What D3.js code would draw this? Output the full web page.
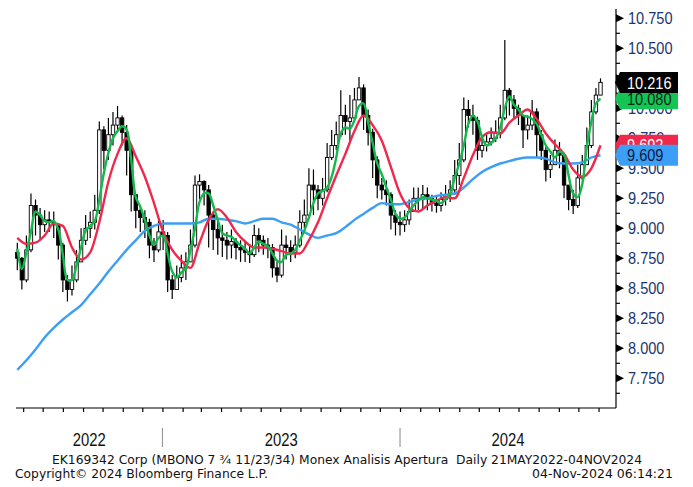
<html>
<head>
<title>MBONO 7.75 11/23/34 daily candles</title>
<style>
  body { margin: 0; background: #fff; }
  svg { display: block; }
</style>
</head>
<body>
<svg></svg>
<script src="https://d3js.org/d3.v7.min.js"></script>
<script>
// weekly candles, 23 May 2022 .. 04 Nov 2024 (one per week)
const candleStart = "2022-05-23";
const opens = [
  8.80,8.75,8.57,8.82,9.19,9.11,9.03,9.07,9.05,9.03,
  8.86,8.57,8.49,8.57,8.72,8.90,9.00,9.05,9.15,9.82,
  9.65,9.78,9.86,9.92,9.80,9.65,9.28,9.15,9.09,9.05,
  8.86,8.82,8.97,8.94,8.57,8.49,8.59,8.67,8.72,8.86,
  9.36,9.39,9.32,9.11,8.99,8.92,8.90,8.86,8.89,8.84,
  8.82,8.80,8.78,8.94,8.90,8.86,8.84,8.67,8.61,8.86,
  8.84,8.80,8.86,9.05,9.11,9.36,9.32,9.25,9.32,9.59,
  9.69,9.78,9.94,9.89,9.92,10.07,10.17,9.94,9.80,9.57,
  9.36,9.32,9.28,9.11,9.05,9.03,9.07,9.14,9.25,9.24,
  9.28,9.25,9.21,9.19,9.24,9.28,9.32,9.44,9.57,9.99,
  9.94,9.90,9.65,9.69,9.72,9.75,9.80,9.92,10.15,10.07,
  10.00,9.94,9.82,9.86,9.97,9.78,9.65,9.49,9.53,9.65,
  9.61,9.36,9.24,9.19,9.42,9.53,9.69,9.97,10.11
];
const highs = [
  8.88,8.76,8.94,9.29,9.24,9.17,9.15,9.14,9.14,9.03,
  8.88,8.61,8.69,8.82,9.00,9.11,9.14,9.28,9.89,9.85,
  9.92,9.97,10.02,9.94,9.86,9.68,9.28,9.19,9.15,9.08,
  8.92,9.07,9.07,8.97,8.61,8.69,8.78,8.80,8.99,9.44,
  9.45,9.40,9.36,9.14,9.07,9.03,8.97,8.99,8.92,8.90,
  8.89,8.87,9.03,9.00,8.94,8.92,8.87,8.72,8.99,8.94,
  8.90,8.94,9.15,9.24,9.50,9.49,9.36,9.42,9.71,9.82,
  9.89,10.15,10.03,10.11,10.17,10.26,10.20,9.99,9.83,9.60,
  9.42,9.40,9.30,9.15,9.14,9.15,9.24,9.34,9.34,9.36,
  9.34,9.28,9.27,9.30,9.36,9.40,9.57,9.71,10.09,10.07,
  10.03,9.93,9.78,9.79,9.84,9.90,10.03,10.57,10.17,10.11,
  10.03,9.94,9.94,10.07,10.00,9.82,9.68,9.61,9.74,9.72,
  9.63,9.36,9.32,9.53,9.61,9.84,10.07,10.17,10.25
];
const lows = [
  8.65,8.49,8.55,8.80,8.94,8.90,8.97,8.97,8.92,8.74,
  8.47,8.39,8.44,8.55,8.72,8.86,8.92,8.99,9.12,9.49,
  9.57,9.69,9.80,9.69,9.44,9.14,9.00,8.97,8.92,8.75,
  8.72,8.80,8.82,8.47,8.41,8.49,8.55,8.57,8.72,8.84,
  9.24,9.19,8.84,8.82,8.78,8.76,8.74,8.75,8.74,8.72,
  8.72,8.71,8.76,8.80,8.78,8.75,8.59,8.55,8.59,8.74,
  8.72,8.75,8.84,9.00,9.08,9.11,9.15,9.19,9.30,9.57,
  9.65,9.76,9.78,9.71,9.90,10.07,9.82,9.69,9.42,9.25,
  9.24,9.19,8.99,8.94,8.94,8.97,9.03,9.14,9.15,9.17,
  9.15,9.14,9.13,9.14,9.19,9.22,9.28,9.36,9.55,9.84,
  9.78,9.57,9.59,9.64,9.69,9.72,9.75,9.90,9.94,9.92,
  9.86,9.67,9.74,9.82,9.59,9.57,9.39,9.42,9.53,9.50,
  9.25,9.15,9.12,9.17,9.40,9.53,9.67,9.95,10.11
];
const closes = [
  8.75,8.57,8.82,9.19,9.11,9.03,9.07,9.05,9.03,8.86,
  8.57,8.49,8.57,8.72,8.90,9.00,9.05,9.15,9.82,9.65,
  9.78,9.86,9.92,9.80,9.65,9.28,9.15,9.09,9.05,8.86,
  8.82,8.97,8.94,8.57,8.49,8.59,8.67,8.72,8.86,9.36,
  9.39,9.32,9.11,8.99,8.92,8.90,8.86,8.89,8.84,8.82,
  8.80,8.78,8.94,8.90,8.86,8.84,8.67,8.61,8.86,8.84,
  8.80,8.86,9.05,9.11,9.36,9.32,9.25,9.32,9.59,9.69,
  9.78,9.94,9.89,9.92,10.07,10.17,9.94,9.80,9.57,9.36,
  9.32,9.28,9.11,9.05,9.03,9.07,9.14,9.25,9.24,9.28,
  9.25,9.21,9.19,9.24,9.28,9.32,9.44,9.57,9.99,9.94,
  9.90,9.65,9.69,9.72,9.75,9.80,9.92,10.15,10.07,10.00,
  9.94,9.82,9.86,9.97,9.78,9.65,9.49,9.53,9.65,9.61,
  9.36,9.24,9.19,9.42,9.53,9.69,9.97,10.11,10.216
];

// short moving average (green), weekly, same dates as candles
const maShort = [
  8.83,8.66,8.80,8.97,9.14,9.11,9.06,9.05,9.06,8.99,
  8.78,8.57,8.57,8.69,8.84,8.98,9.02,9.06,9.24,9.46,
  9.63,9.75,9.81,9.85,9.82,9.57,9.26,9.18,9.07,8.94,
  8.86,8.92,8.94,8.79,8.64,8.59,8.63,8.67,8.82,9.00,
  9.22,9.29,9.29,9.19,9.07,8.96,8.94,8.93,8.89,8.86,
  8.83,8.79,8.84,8.89,8.87,8.85,8.79,8.73,8.72,8.78,
  8.79,8.82,8.90,8.98,9.09,9.21,9.29,9.31,9.34,9.43,
  9.59,9.79,9.84,9.83,9.90,10.02,10.04,9.88,9.71,9.54,
  9.45,9.34,9.24,9.12,9.08,9.09,9.14,9.19,9.23,9.26,
  9.25,9.24,9.23,9.21,9.24,9.29,9.42,9.54,9.69,9.87,
  9.94,9.89,9.76,9.69,9.71,9.75,9.84,10.00,10.10,10.03,
  9.99,9.94,9.93,9.91,9.87,9.78,9.69,9.64,9.59,9.64,
  9.61,9.44,9.29,9.26,9.37,9.68,9.89,10.04,10.08
];
// medium (red) and long (blue) moving averages, every two weeks from candleStart
const maMid = [
  8.92,8.87,8.88,8.94,9.04,9.02,8.84,8.74,8.80,9.05,
  9.39,9.62,9.75,9.60,9.43,9.21,8.97,8.82,8.73,8.67,
  8.88,9.07,9.16,9.09,8.97,8.89,8.84,8.84,8.83,8.81,
  8.79,8.79,8.90,9.05,9.25,9.44,9.62,9.81,9.94,9.86,
  9.73,9.51,9.29,9.17,9.14,9.19,9.23,9.26,9.25,9.42,
  9.61,9.76,9.80,9.79,9.88,9.94,9.99,9.91,9.79,9.70,
  9.62,9.49,9.43,9.50,9.692
];
const maLong = [
  7.82,7.90,7.99,8.09,8.17,8.24,8.30,8.36,8.45,8.54,
  8.64,8.73,8.82,8.90,8.98,9.02,9.04,9.04,9.04,9.04,
  9.05,9.08,9.08,9.07,9.06,9.04,9.06,9.08,9.08,9.05,
  9.03,8.99,8.95,8.92,8.94,8.96,9.01,9.07,9.12,9.17,
  9.21,9.20,9.20,9.22,9.24,9.25,9.27,9.28,9.29,9.34,
  9.41,9.47,9.51,9.54,9.56,9.58,9.59,9.59,9.58,9.55,
  9.54,9.54,9.55,9.59,9.609
];

const yTicks = [7.75, 8.0, 8.25, 8.5, 8.75, 9.0, 9.25, 9.5, 9.75, 10.0, 10.25, 10.5, 10.75];
const yMinor = [7.625, 7.875, 8.125, 8.375, 8.625, 8.875, 9.125, 9.375, 9.625, 9.875, 10.125, 10.375, 10.625];
const years = ["2022", "2023", "2024"];
const footerTitle = "EK169342 Corp (MBONO 7 \u00BE 11/23/34) Monex Analisis Apertura  Daily 21MAY2022-04NOV2024";
const footerCopy = "Copyright\u00A9 2024 Bloomberg Finance L.P.";
const footerStamp = "04-Nov-2024 06:14:21";

window.onload = function() {
  const width = 693, height = 487;
  const axisX = 616, axisY = 408;
  const labelFont = "'Liberation Sans', Arial, sans-serif";
  const fmt = d3.format(".3f");
  // tahoma-like narrow numbers: squeeze each label to its width in the reference
  const numWidth = s => s.replace(/[^0-9]/g, "").length * 8.1 + 4;

  const svg = d3.select("svg").attr("width", width).attr("height", height);

  const parse = d3.utcParse("%Y-%m-%d");
  const t0 = parse(candleStart);
  const weekDates = closes.map((d, i) => d3.utcDay.offset(t0, 7 * i));
  const biDates = maMid.map((d, i) => d3.utcDay.offset(t0, 14 * i));

  const x = d3.scaleUtc()
    .domain([parse("2022-05-21"), parse("2024-11-04")])
    .range([16, 600.5]);
  const y = d3.scaleLinear()
    .domain([7.75, 10.75])
    .range([378.3, 18.3]);

  // candles
  const candles = weekDates.map((d, i) => ({date: d, o: opens[i], h: highs[i], l: lows[i], c: closes[i]}));
  const cg = svg.append("g");
  cg.selectAll("line")
    .data(candles)
    .join("line")
    .attr("x1", d => x(d.date)).attr("x2", d => x(d.date))
    .attr("y1", d => y(d.h)).attr("y2", d => y(d.l))
    .attr("stroke", "#000").attr("stroke-width", 1.2);
  cg.selectAll("rect")
    .data(candles)
    .join("rect")
    .attr("x", d => x(d.date) - 1.7)
    .attr("width", 3.4)
    .attr("y", d => y(Math.max(d.o, d.c)))
    .attr("height", d => Math.max(1, Math.abs(y(d.o) - y(d.c))))
    .attr("fill", d => d.c > d.o ? "#fff" : "#000")
    .attr("stroke", "#000").attr("stroke-width", 0.9);

  // moving averages
  const lineLong = d3.line().x((d, i) => x(biDates[i])).y(d => y(d)).curve(d3.curveMonotoneX);
  const lineMid = d3.line().x((d, i) => x(biDates[i])).y(d => y(d)).curve(d3.curveMonotoneX);
  const lineShort = d3.line().x((d, i) => x(weekDates[i])).y(d => y(d)).curve(d3.curveCatmullRom);

  svg.append("path").datum(maLong).attr("d", lineLong)
    .attr("fill", "none").attr("stroke", "#3d9ef6").attr("stroke-width", 2.4);
  svg.append("path").datum(maMid).attr("d", lineMid)
    .attr("fill", "none").attr("stroke", "#f0284c").attr("stroke-width", 2.4);
  svg.append("path").datum(maShort).attr("d", lineShort)
    .attr("fill", "none").attr("stroke", "#14b84c").attr("stroke-width", 2.4);

  // right axis
  svg.append("line")
    .attr("x1", axisX).attr("x2", axisX).attr("y1", 9).attr("y2", axisY)
    .attr("stroke", "#000").attr("stroke-width", 1.2);
  svg.append("g").selectAll("path")
    .data(yTicks)
    .join("path")
    .attr("d", d => "M" + axisX + "," + (y(d) - 4) + "L" + (axisX + 8) + "," + y(d) + "L" + axisX + "," + (y(d) + 4) + "Z")
    .attr("fill", "#000");
  svg.append("g").selectAll("line")
    .data(yMinor)
    .join("line")
    .attr("x1", axisX).attr("x2", axisX + 4)
    .attr("y1", d => y(d)).attr("y2", d => y(d))
    .attr("stroke", "#000").attr("stroke-width", 1.2);
  svg.append("g").selectAll("text")
    .data(yTicks)
    .join("text")
    .attr("x", axisX + 12)
    .attr("y", d => y(d))
    .attr("dy", "0.36em")
    .attr("font-family", labelFont)
    .attr("font-size", 17)
    .attr("fill", "#1d356e")
    .attr("textLength", d => numWidth(fmt(d)))
    .attr("lengthAdjust", "spacingAndGlyphs")
    .text(d => fmt(d));

  // bottom axis
  svg.append("line")
    .attr("x1", 16).attr("x2", axisX).attr("y1", axisY).attr("y2", axisY)
    .attr("stroke", "#000").attr("stroke-width", 1.2);
  const bottomAxis = svg.append("g")
    .attr("transform", "translate(0," + axisY + ")")
    .call(d3.axisBottom(x)
      .tickValues(d3.utcMonth.range(parse("2022-06-01"), parse("2024-11-02")))
      .tickSize(4)
      .tickFormat(""));
  bottomAxis.select(".domain").remove();
  bottomAxis.selectAll(".tick line").attr("stroke-width", 1.2);

  // year separators and labels
  const yearStarts = years.map(s => parse(s + "-01-01"));
  svg.append("g").selectAll("line")
    .data(yearStarts.slice(1))
    .join("line")
    .attr("x1", d => x(d)).attr("x2", d => x(d))
    .attr("y1", 428).attr("y2", 447)
    .attr("stroke", "#9a9a9a").attr("stroke-width", 1.2);
  svg.append("g").selectAll("text")
    .data(years)
    .join("text")
    .attr("x", (d, i) => {
      const a = Math.max(16, x(yearStarts[i]));
      const b = i < years.length - 1 ? x(yearStarts[i + 1]) : axisX;
      return (a + b) / 2 - 16.5;
    })
    .attr("y", 446)
    .attr("font-family", labelFont)
    .attr("font-size", 17.5)
    .attr("fill", "#111")
    .attr("textLength", 33)
    .attr("lengthAdjust", "spacingAndGlyphs")
    .text(d => d);

  // value tags on the right
  const tags = [
    {v: maMid[maMid.length - 1], fill: "#f0284c", text: "#fff"},
    {v: maLong[maLong.length - 1], fill: "#3d9ef6", text: "#0b1a3a"},
    {v: maShort[maShort.length - 1], fill: "#14c455", text: "#0b2a14"},
    {v: closes[closes.length - 1], fill: "#000", text: "#fff"}
  ];
  const tg = svg.append("g").selectAll("g")
    .data(tags)
    .join("g");
  tg.append("path")
    .attr("d", d => {
      const c = y(d.v);
      return "M615," + c + "L620," + (c - 10.5) + "L678," + (c - 10.5) + "L678," + (c + 10.5) + "L620," + (c + 10.5) + "Z";
    })
    .attr("fill", d => d.fill);
  tg.append("text")
    .attr("x", 627)
    .attr("y", d => y(d.v))
    .attr("dy", "0.36em")
    .attr("font-family", labelFont)
    .attr("font-size", 17)
    .attr("fill", d => d.text)
    .attr("textLength", d => numWidth(fmt(d.v)))
    .attr("lengthAdjust", "spacingAndGlyphs")
    .text(d => fmt(d.v));

  // footer
  const footerFont = "'DejaVu Sans', Verdana, sans-serif";
  svg.append("text")
    .attr("x", 52).attr("y", 464)
    .attr("font-family", footerFont).attr("font-size", 12.5)
    .attr("fill", "#111")
    .attr("textLength", 590).attr("lengthAdjust", "spacingAndGlyphs")
    .style("white-space", "pre")
    .text(footerTitle);
  svg.append("text")
    .attr("x", 15).attr("y", 478)
    .attr("font-family", footerFont).attr("font-size", 12.5)
    .attr("fill", "#111")
    .attr("textLength", 253).attr("lengthAdjust", "spacingAndGlyphs")
    .text(footerCopy);
  svg.append("text")
    .attr("x", 532).attr("y", 478)
    .attr("font-family", footerFont).attr("font-size", 12.5)
    .attr("fill", "#111")
    .attr("textLength", 141).attr("lengthAdjust", "spacingAndGlyphs")
    .text(footerStamp);
};
</script>
</body>
</html>
